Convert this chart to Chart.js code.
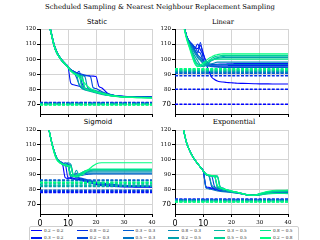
<!DOCTYPE html>
<html>
<head>
<meta charset="utf-8">
<script src="https://cdn.jsdelivr.net/npm/chart.js@4.4.1/dist/chart.umd.min.js"></script>
<style>
  html, body { margin: 0; padding: 0; background: #fff; }
  #fig { position: relative; width: 320px; height: 240px; overflow: hidden; background: #fff; }
  .panel { position: absolute; }
  .txt { position: absolute; white-space: nowrap; line-height: 1; transform: translate(-50%, -50%); color: #000; }
  .serif { font-family: "DejaVu Serif", serif; }
  .sans { font-family: "DejaVu Sans", sans-serif; }
  #legendBox { position: absolute; left: 29px; top: 226px; width: 270px; height: 20px; border: 1px solid #cfcfcf; border-radius: 2px; box-sizing: border-box; background: #fff; }
  .item { position: absolute; height: 6px; }
  .item .sw { position: absolute; left: 0; top: 2.4px; width: 11px; height: 1.3px; }
  .item .lab { position: absolute; left: 13px; top: 0; font: 4.2px "DejaVu Serif", serif; line-height: 6px; white-space: nowrap; color: #333; }
</style>
</head>
<body>
<div id="fig">
  <div class="txt serif" style="left:160px; top:7.3px; font-size:6.8px;">Scheduled Sampling &amp; Nearest Neighbour Replacement Sampling</div>

  <div class="txt sans" style="left:97px; top:21.8px; font-size:7px;">Static</div>
  <div class="txt serif" style="left:223px; top:22px; font-size:6.7px;">Linear</div>
  <div class="txt sans" style="left:98px; top:122.3px; font-size:7px;">Sigmoid</div>
  <div class="txt serif" style="left:234px; top:122px; font-size:7px;">Exponential</div>

  <div class="panel" style="left:0px; top:23px; width:160px; height:97px;"><canvas id="cStatic"></canvas></div>
  <div class="panel" style="left:140px; top:23px; width:156px; height:97px;"><canvas id="cLinear"></canvas></div>
  <div class="panel" style="left:0px; top:124px; width:160px; height:106px;"><canvas id="cSigmoid"></canvas></div>
  <div class="panel" style="left:140px; top:124px; width:156px; height:106px;"><canvas id="cExp"></canvas></div>

  <div id="legendBox"></div>
</div>
<script>
// epochs shared by every curve
const epochs = [0, 2, 4, 5, 6, 7, 8, 9, 10, 11, 12, 13, 14, 15, 16, 17, 18, 19, 20, 21, 22, 24, 26, 28, 30, 33, 36, 40];

const seriesLabels = ['0.2 − 0.2', '0.3 − 0.2', '0.8 − 0.2', '0.2 − 0.3', '0.3 − 0.3', '0.5 − 0.3',
                      '0.8 − 0.3', '0.2 − 0.5', '0.3 − 0.5', '0.5 − 0.5', '0.8 − 0.5', '0.2 − 0.8'];

const seriesColors = ['#0000ff', '#0017f3', '#002ee8', '#0046dc', '#005dd1', '#0074c5',
                      '#008bb9', '#00a2ae', '#00b9a2', '#00d197', '#00e88b', '#00ff80'];

const xTicks = [0, 10, 20, 30, 40];
const yTicks = [70, 80, 90, 100, 110, 120];

// --- Static ---
const staticCurves = [
  [160,132,117,109,104,101,98.5,96.5,94.5, 93,92,91,90,89.5,89,89,88.8,88.7,88.5,82,81, 77.5,76.2,75.6,75.3,75.1,75,74.9],
  [160,133,118,110,105,101.5,99,97,95, 84,83,82.5,82,81,80,79.5,79,78.5,78,77.5,77, 76.3,75.8,75.4,75.2,75,74.9,74.8],
  [160,132,117,109,104,101,98.5,96.5,94.5, 93,91.5,90.5,92,84,81,80,79.5,79,78.5,78,77.5, 76.8,76,75.5,75.2,75,74.9,74.8],
  [160,133,118,110,105,101.5,99,97,95, 93,92,91,90.5,90,89.5,89,88.5,81,80.5,79.5,78.5, 77,76,75.5,75.2,75,74.9,74.8],
  [160,132,117,109,104,101,98.5,96.5,94.5, 93,91.5,88,83,81,80,79.5,79,78.5,78,77.5,77, 76.5,76,75.5,75.2,75,74.8,74.7],
  [160,133,118,110,105,101.5,99,97,95, 92.5,91,90,89.5,82,80.5,80,79.5,79,78.5,78,77.5, 76.8,76,75.4,75.1,74.9,74.8,74.6],
  [160,132,117,109,104,101,98.5,96.5,94.5, 93,91.5,90.5,89.5,89,88.5,81,80,79.5,79,78.5,78, 77,76,75.4,75,74.8,74.6,74.5],
  [160,133,118,110,105,101.5,99,97,95, 92.5,91,90,83,80.5,79.5,79,78.5,78,77.5,77,76.5, 76,75.5,75.2,75,74.8,74.6,74.5],
  [160,132,117,109,104,101,98.5,96.5,94.5, 92.5,91,90,89.5,89,81,80,79.5,78.5,78,77.5,77, 76.2,75.6,75.2,74.9,74.6,74.5,74.4],
  [160,133,118,110,105,101.5,99,97,95, 92.5,91,90,89,81.5,80.5,79.5,79,78.5,78,77.5,77, 76,75.5,75.1,74.8,74.6,74.5,74.4],
  [160,132,117,109,104,101,98.5,96.5,94.5, 92,90.5,89.5,88.5,88,80.5,79.5,79,78.5,78,77.5,77, 76,75.4,75,74.7,74.5,74.4,74.3],
  [160,132,117,109,104,101,98.5,96.5,94.5, 92,90.5,89.5,88,86,84,82,80.5,79.5,78.5,78,77.5, 76.5,75.8,75.3,74.9,74.6,74.4,74.3]
];
const staticBaselines = [71.2, 71, 70.9, 70.8, 70.6, 70.5, 70.4, 70.2, 70.1, 70, 69.8, 69.6];

// --- Linear ---
const linearCurves = [
  [160,134,116,112,110,108,107,109,104, 97,92,88,86.5,85.5,85,84.8,84.6,84.4,84.3,84.2,84, 83.9,83.8,83.7,83.6,83.6,83.5,83.5],
  [160,134,116,112,110,107,110,106,103, 99,97,96.5,96.5,96.6,96.7,96.8,96.8,96.9,96.9,97,97, 97,97,97,97,97,97,97],
  [160,134,116,112,109,106,104,111,100, 97,96,95.5,95.5,95.5,95.6,95.6,95.6,95.7,95.7,95.7,95.7, 95.7,95.7,95.7,95.7,95.7,95.7,95.7],
  [160,134,116,112,110,108,105,104,98, 96,95.5,95,95,95,95,95,95,95,95,95,95, 95,95,95,95,95,95,95],
  [160,134,116,111,109,106,103,101,99, 97,96,95.5,95,94.8,94.6,94.5,94.5,94.5,94.5,94.5,94.5, 94.5,94.5,94.5,94.5,94.5,94.5,94.5],
  [160,134,116,111,108,105,102,100,97, 95.5,95.5,96,96.2,96.3,96.3,96.4,96.4,96.4,96.4,96.4,96.4, 96.4,96.4,96.4,96.4,96.4,96.4,96.4],
  [160,134,116,111,107,104,101,99,97, 96,96.5,97,97.5,98,98,98,98,98,98,98,98, 98,98,98,98,98,98,98],
  [160,133,115,110,106,102,99,96,95, 96,97.5,99,100,100.5,100.8,101,101,101,101,101,101, 101,101,101,101,101,101,101],
  [160,133,115,110,105,100,97,96,95.5, 96.5,98,99.5,100.5,101,101.5,101.8,102,102,102,102,102, 102,102,102,102,102,102,102],
  [160,133,115,109,104,99,96,95,96, 97.5,99,100.5,101.5,102,102.3,102.5,102.5,102.5,102.5,102.5,102.5, 102.5,102.5,102.5,102.5,102.5,102.5,102.5],
  [160,133,115,109,103,98,95,96,97, 98,99,99.5,99.8,100,100,100,100,100,100,100,100, 100,100,100,100,100,100,100],
  [160,132,114,108,102,97,95,96,97.5, 99,100.5,101.5,102.5,103,103.3,103.5,103.5,103.5,103.5,103.5,103.5, 103.5,103.5,103.5,103.5,103.5,103.5,103.5]
];
const linearBaselines = [70, 80, 89, 90.6, 90.8, 91.2, 91.6, 92, 92.4, 92.8, 93.2, 93.6];

// --- Sigmoid ---
const sigmoidCurves = [
  [160,133,113,106,101,99,97.5,88,87.5, 88,87.5,87,86.5,86,85.5,85,84.5,84,83.5,83,82.8, 82.5,82.2,82,81.8,81.7,81.6,81.5],
  [160,133,113,106,101,99,97.5,97,88, 87.5,87,87,86.8,86.5,86,85.5,85,84.5,84,83.5,83.2, 82.8,82.5,82.3,82.1,82,82,82],
  [160,133,113,106,101,99,98,96,97.5, 88,89,88,87.5,87,86.5,86,85.5,85,84.5,84,83.8, 83.3,83,82.7,82.5,82.4,82.3,82.2],
  [160,133,113,106,101,99,97.5,98,97, 89,90,88.5,88,87.5,87,86.5,86,85.5,85,84.8,84.5, 84,83.5,83,82.8,82.6,82.5,82.4],
  [160,133,113,106,101,99,97.5,97,96.5, 90,89.5,91,89.5,89.5,90,90.2,90.4,90.5,90.5,90.5,90.5, 90.5,90.5,90.5,90.5,90.5,90.5,90.5],
  [160,133,113,106,101,99,97.5,96.5,97, 96,89,90,90,90.5,90.8,91,91,91,91,91,91, 91,91,91,91,91,91,91],
  [160,133,113,106,101,99,97.5,97,98, 97,88.5,89,90,90.8,91.3,91.6,91.8,91.8,91.8,91.8,91.8, 91.8,91.8,91.8,91.8,91.8,91.8,91.8],
  [160,133,113,106,101,99,97.5,96.5,96, 90,89.5,93,89.5,90.5,91.5,92,92.3,92.5,92.5,92.5,92.5, 92.5,92.5,92.5,92.5,92.5,92.5,92.5],
  [160,133,113,106,101,98.5,97,96,95.5, 96.5,89.5,89,90,91,92,92.5,92.8,93,93,93,93, 93,93,93,93,93,93,93],
  [160,133,113,106,101,98.5,97,97,96, 89,89,89.5,90.5,91.5,92.5,93,93.3,93.5,93.5,93.5,93.5, 93.5,93.5,93.5,93.5,93.5,93.5,93.5],
  [160,133,113,105,100,98,97,96,95.5, 90,89,89.5,90.5,91.5,92.5,93.2,93.6,93.8,93.8,93.8,93.8, 93.8,93.8,93.8,93.8,93.8,93.8,93.8],
  [160,133,113,105,100,98,97,96.5,96, 95,89,88.5,89,90,91.5,93,94.5,96,97.2,97.8,98, 98,98,98,98,98,98,98]
];
const sigmoidBaselines = [78, 78.5, 79, 79.5, 86.5, 86, 82, 83, 82.5, 84, 84.5, 85];

// --- Exponential ---
const expCurves = [
  [160,131,112,107,103,100,97.5,95,92.5, 81.5,81,80.5,80,79.5,79.2,79,78.8,78.5,78.2,78,77.8, 77,76.2,76.3,77,78,78,78],
  [160,131,112,107,103,100,97.5,95,92.5, 82,81.5,81,80.5,80,79.5,79.2,79,78.7,78.4,78.2,78, 77.2,76.4,76.3,76.8,77.8,78,78.2],
  [160,131,112,107,103,100,97.5,95,92.5, 90,89.5,82,81,80.5,80,79.5,79.2,78.8,78.5,78.3,78, 77.2,76.5,76.3,77,77.9,78.1,78.2],
  [160,131,112,107,103,100,97.5,95,92.5, 90,89.5,89,82,81,80.5,80,79.5,79,78.6,78.3,78, 77.2,76.4,76.2,77,78,78.3,78.4],
  [160,131,112,107,103,100,97.5,95,92.5, 90.5,89.5,89,89,81.5,80.5,80,79.5,79,78.6,78.3,78, 77,76.3,76.2,76.8,77.8,78.4,78.5],
  [160,131,112,107,103,100,97.5,95,92.5, 81,80.5,80,79.5,79,78.8,78.6,78.4,78.2,78,77.8,77.6, 76.9,76.2,76,76.5,77.5,78,78.2],
  [160,131,112,107,103,100,97.5,95,92.5, 90,89.5,89.5,89,89,82,81,80,79.2,78.7,78.3,78, 77.1,76.3,76.2,76.8,77.9,78.5,78.7],
  [160,131,112,107,103,100,97.5,95,92.5, 90,89,83,81.5,80.5,80,79.5,79,78.6,78.3,78,77.8, 77,76.2,76,76.4,77.2,77.5,77.5],
  [160,131,112,107,103,100,97.5,95,92.5, 90.5,89.5,89.5,89,82,81,80.5,80,79.5,79,78.6,78.2, 77.3,76.5,76.3,77.2,78.5,79.2,79.4],
  [160,131,112,107,103,100,97.5,95,92.5, 90,89.5,89,88.5,88.5,81.5,80.5,80,79.5,79,78.5,78.2, 77.2,76.4,76.2,76.8,78,78.8,79],
  [160,131,112,107,103,100,97.5,95,92.5, 90,89.5,89,89.5,89,81,80.5,80,79.3,78.8,78.4,78, 77,76.2,76,76.5,77.3,77.4,77.3],
  [160,131,112,107,103,100,97.5,95,92.5, 90.5,90,89.5,89,82.5,81.5,80.5,80,79.5,79,78.5,78.2, 77.3,76.5,76.3,77.3,78.8,79.5,79.6]
];
const expBaselines = [73.5, 73.4, 73.3, 73.1, 73, 72.8, 72.6, 72.4, 72.2, 72, 71.8, 71.6];

function tickFont(big) {
  return (ctx) => (ctx.tick && big.includes(ctx.tick.value))
    ? { family: 'DejaVu Sans', size: big === xBig ? 8 : 7 }
    : { family: 'DejaVu Serif', size: 5.5 };
}
const xBig = [0, 10];
const yBig = [70];

function drawPanel(canvasId, curves, baselines, yAxisWidth, xAxisHeight, showXLabels) {
  const datasets = [];
  curves.forEach((vals, i) => {
    datasets.push({
      data: vals.map((v, j) => ({ x: epochs[j], y: v })),
      borderColor: seriesColors[i],
      borderWidth: 1.1,
      pointRadius: 0,
      cubicInterpolationMode: 'monotone',
      order: 100 - i
    });
  });
  baselines.forEach((v, i) => {
    datasets.push({
      data: [{ x: 0, y: v }, { x: 40, y: v }],
      borderColor: seriesColors[i],
      borderWidth: 1.5,
      borderDash: [3, 1.4],
      pointRadius: 0,
      order: 50 - i
    });
  });

  new Chart(document.getElementById(canvasId), {
    type: 'line',
    data: { datasets },
    options: {
      responsive: true,
      maintainAspectRatio: false,
      animation: false,
      events: [],
      layout: { padding: { left: 0, right: 8, top: 6, bottom: 0 } },
      plugins: { legend: { display: false }, tooltip: { enabled: false }, title: { display: false } },
      scales: {
        x: {
          type: 'linear', min: 0, max: 40,
          afterBuildTicks: (s) => { s.ticks = xTicks.map(v => ({ value: v })); },
          afterFit: (s) => { s.height = xAxisHeight; },
          grid: { color: '#d4d4d4', lineWidth: 1, tickLength: 3, tickColor: '#000' },
          border: { color: '#000', width: 1 },
          ticks: {
            padding: 2, color: '#000', maxRotation: 0, autoSkip: false,
            font: tickFont(xBig),
            callback: (v) => showXLabels ? String(v) : ''
          }
        },
        y: {
          min: 63.6, max: 120,
          afterBuildTicks: (s) => { s.ticks = yTicks.map(v => ({ value: v })); },
          afterFit: (s) => { s.width = yAxisWidth; },
          grid: { color: '#d4d4d4', lineWidth: 1, tickLength: 3, tickColor: '#000' },
          border: { color: '#000', width: 1 },
          ticks: { padding: 1, color: '#000', autoSkip: false, font: tickFont(yBig) }
        }
      }
    }
  });
}

drawPanel('cStatic', staticCurves, staticBaselines, 40, 6, false);
drawPanel('cLinear', linearCurves, linearBaselines, 35, 6, false);
drawPanel('cSigmoid', sigmoidCurves, sigmoidBaselines, 40, 16, true);
drawPanel('cExp', expCurves, expBaselines, 35, 16, true);

// shared legend, filled column by column like the original (2 rows x 6 columns)
const legendBox = document.getElementById('legendBox');
seriesLabels.forEach((lab, i) => {
  const col = Math.floor(i / 2), row = i % 2;
  const item = document.createElement('div');
  item.className = 'item';
  item.style.left = (1 + col * 45.8) + 'px';
  item.style.top = (0.5 + row * 7.5) + 'px';
  item.innerHTML = '<span class="sw" style="background:' + seriesColors[i] + '"></span><span class="lab">' + lab + '</span>';
  legendBox.appendChild(item);
});
</script>
</body>
</html>
